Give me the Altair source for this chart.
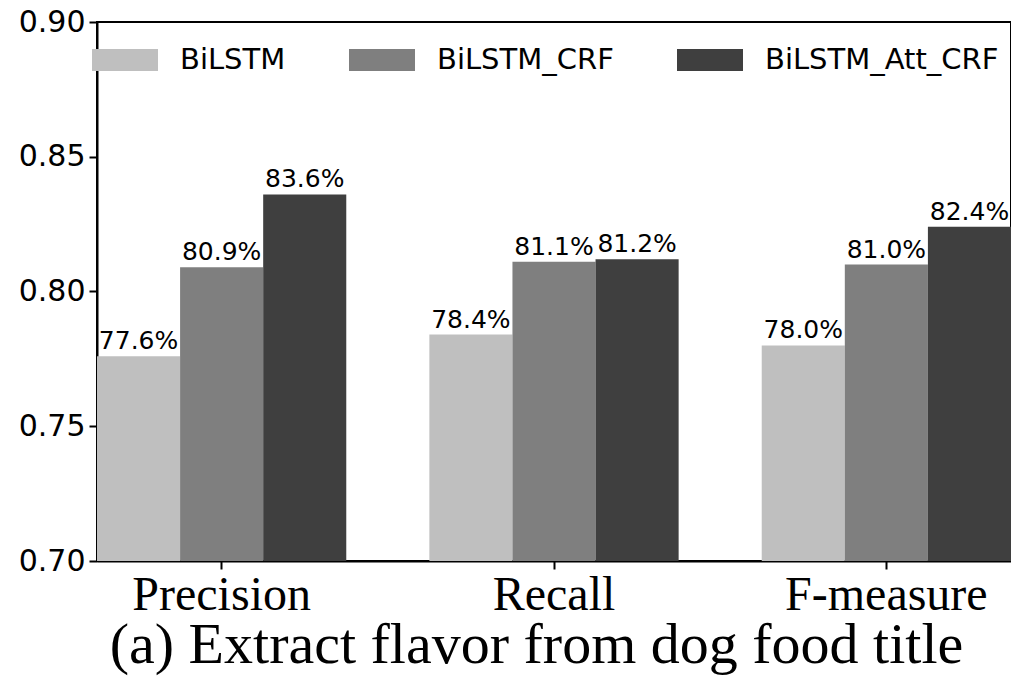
import altair as alt
import pandas as pd

categories = ["Precision", "Recall", "F-measure"]
models = ["BiLSTM", "BiLSTM_CRF", "BiLSTM_Att_CRF"]
bilstm = [0.776, 0.784, 0.780]
bilstm_crf = [0.809, 0.811, 0.810]
bilstm_att_crf = [0.836, 0.812, 0.824]
colors = ["#bfbfbf", "#7f7f7f", "#3f3f3f"]
y_ticks = [0.70, 0.75, 0.80, 0.85, 0.90]
caption = "(a) Extract flavor from dog food title"

rows = []
for m, vals in zip(models, [bilstm, bilstm_crf, bilstm_att_crf]):
    for c, v in zip(categories, vals):
        rows.append({"category": c, "model": m, "value": v, "label": f"{v*100:.1f}%"})
df = pd.DataFrame(rows)

x = alt.X("category:N", sort=categories,
          scale=alt.Scale(paddingInner=0.25, paddingOuter=0),
          axis=alt.Axis(title=caption, labelAngle=0, labelFont="Liberation Serif",
                        labelFontSize=48, labelColor="black", labelPadding=2,
                        labelLimit=500,
                        titleFont="Liberation Serif", titleFontSize=58,
                        titleFontWeight="normal", titleColor="black",
                        titlePadding=-3, titleX=439, titleAnchor="middle",
                        titleLimit=1200,
                        tickSize=8, tickWidth=2, tickColor="black",
                        domainColor="black", domainWidth=2))
xo = alt.XOffset("model:N", sort=models, scale=alt.Scale(paddingInner=0, paddingOuter=0))
y = alt.Y("value:Q", scale=alt.Scale(domain=[0.70, 0.90], nice=False, zero=False),
          axis=alt.Axis(values=y_ticks, format=".2f", title=None, grid=False,
                        labelFont="DejaVu Sans", labelFontSize=30, labelColor="black",
                        labelPadding=4, tickSize=8, tickWidth=2, tickColor="black",
                        domainColor="black", domainWidth=2))

color = alt.Color("model:N", sort=models,
                  scale=alt.Scale(domain=models, range=colors),
                  legend=alt.Legend(title=None, orient="none", direction="horizontal",
                                    columns=3, legendX=-5, legendY=5, padding=0,
                                    symbolType="M-1,-0.333H1V0.333H-1Z", symbolSize=4356,
                                    symbolStrokeWidth=0, symbolOpacity=1,
                                    labelFont="DejaVu Sans", labelFontSize=29,
                                    labelColor="black", labelOffset=22,
                                    columnPadding=63, labelLimit=400))

bars = alt.Chart(df).mark_bar().encode(
    x=x, xOffset=xo, y=y, y2=alt.datum(0.70), color=color)

texts = alt.Chart(df).mark_text(baseline="bottom", dy=-2, fontSize=25,
                                font="DejaVu Sans", color="black").encode(
    x=alt.X("category:N", sort=categories), xOffset=xo,
    y="value:Q", text="label:N")

chart = alt.layer(bars, texts).properties(
    width=914, height=539,
    background="white",
    autosize=alt.AutoSizeParams(type="none"),
    padding={"left": 97, "top": 22, "right": 0, "bottom": 116},
).configure_view(stroke="black", strokeWidth=2)

chart.save("out.html", embed_options={"renderer": "svg", "actions": False})
